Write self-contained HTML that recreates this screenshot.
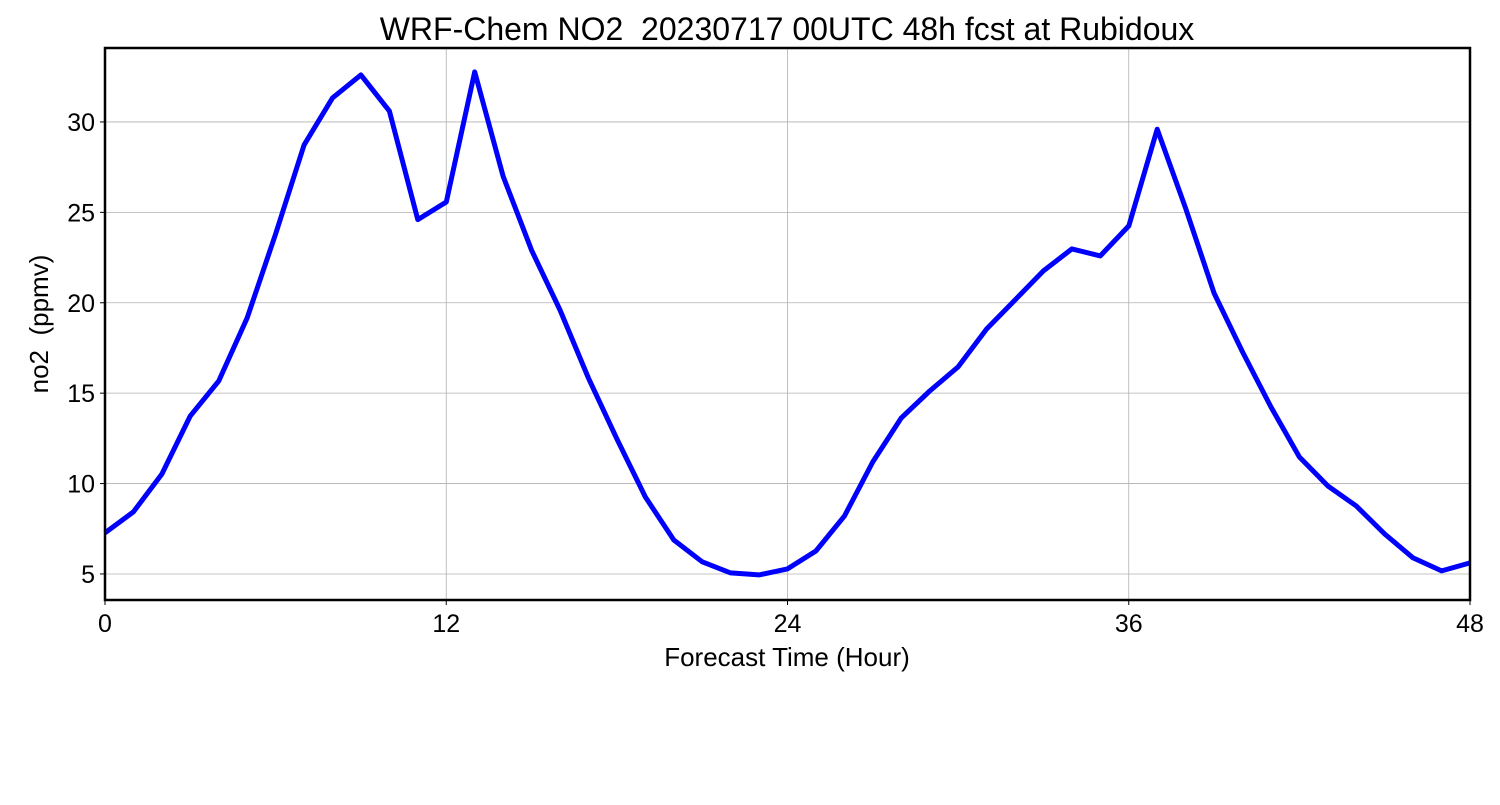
<!DOCTYPE html>
<html><head><meta charset="utf-8"><style>
html,body{margin:0;padding:0;background:#fff;}
svg text{font-family:"Liberation Sans","DejaVu Sans",sans-serif;fill:#000;}
</style></head><body>
<svg id="chart" width="1500" height="800" xmlns="http://www.w3.org/2000/svg"></svg>
<script>
const hours = [];
for (let i = 0; i <= 48; i++) hours.push(i);
const no2Values = [7.27,8.43,10.53,13.74,15.68,19.17,23.8,28.73,31.33,32.6,30.6,24.6,25.57,32.77,27.0,22.9,19.6,15.84,12.47,9.26,6.88,5.67,5.06,4.95,5.28,6.27,8.2,11.2,13.63,15.12,16.45,18.55,20.15,21.76,22.98,22.59,24.25,29.6,25.23,20.53,17.28,14.24,11.47,9.87,8.76,7.21,5.89,5.17,5.61];
const xTicks = [0,12,24,36,48];
const yTicks = [5,10,15,20,25,30];

const L=105,R=1470,T=48,B=600;
const xMin=0,xMax=48,yMin=3.56,yMax=34.09;
const xs=v=>L+(v-xMin)/(xMax-xMin)*(R-L);
const ys=v=>B-(v-yMin)/(yMax-yMin)*(B-T);
const svg=document.getElementById('chart');
const NS='http://www.w3.org/2000/svg';
function mk(tag,attrs,parent){const e=document.createElementNS(NS,tag);for(const k in attrs)e.setAttribute(k,attrs[k]);(parent||svg).appendChild(e);return e;}

// grid
xTicks.forEach(t=>{
  const g=mk('line',{x1:xs(t),x2:xs(t),y1:T,y2:B,stroke:'#b0b0b0','stroke-width':0.8});
  
  
  const tk=mk('line',{x1:xs(t),x2:xs(t),y1:B,y2:B+5,stroke:'#000','stroke-width':1});
  
  
  const tx=mk('text',{x:xs(t),y:632,'font-size':25,'text-anchor':'middle'});
  tx.textContent=t;
  
  
});
yTicks.forEach(t=>{
  const g=mk('line',{x1:L,x2:R,y1:ys(t),y2:ys(t),stroke:'#b0b0b0','stroke-width':0.8});
  
  
  const tk=mk('line',{x1:L-5,x2:L,y1:ys(t),y2:ys(t),stroke:'#000','stroke-width':1});
  
  
  const tx=mk('text',{x:L-10,y:ys(t)+9,'font-size':25,'text-anchor':'end'});
  tx.textContent=t;
  
  
});

// line
const pts=hours.map((h,i)=>xs(h).toFixed(1)+','+ys(no2Values[i]).toFixed(1)).join(' ');
const line=mk('polyline',{points:pts,fill:'none',stroke:'#0000ff','stroke-width':5,'stroke-linejoin':'round'});



// frame
const fr=mk('rect',{x:L,y:T,width:R-L,height:B-T,fill:'none',stroke:'#000','stroke-width':2.5});



const title=mk('text',{x:787,y:40,'font-size':32,'text-anchor':'middle'});
title.textContent='WRF-Chem NO2  20230717 00UTC 48h fcst at Rubidoux';


title.setAttribute('xml:space','preserve');
title.style.whiteSpace='pre';

const xl=mk('text',{x:787,y:666,'font-size':26,'text-anchor':'middle'});
xl.textContent='Forecast Time (Hour)';



const yl=mk('text',{x:0,y:0,'font-size':26,'text-anchor':'middle',transform:'translate(48,324) rotate(-90)'});
yl.textContent='no2  (ppmv)';
yl.style.whiteSpace='pre';


</script>
</body></html>
